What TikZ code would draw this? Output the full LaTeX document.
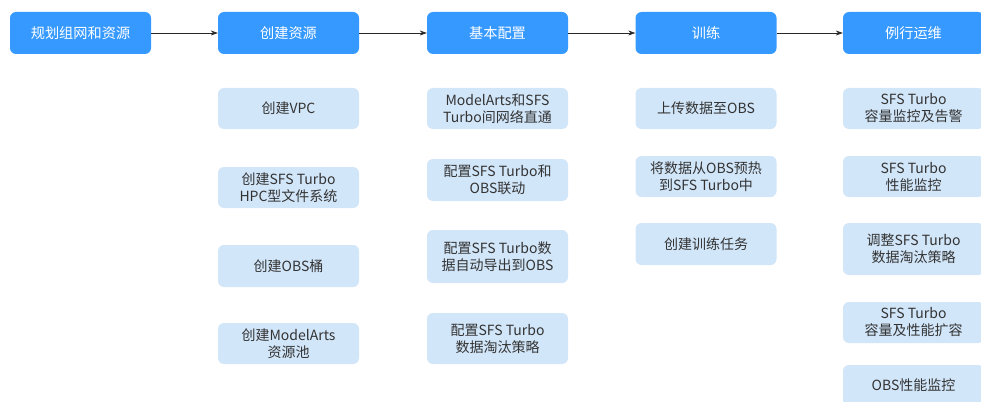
\documentclass[tikz,border=0pt]{standalone}
\usepackage{fontspec}
\setmainfont{Noto Sans CJK SC}
\usetikzlibrary{arrows.meta}
\definecolor{headblue}{RGB}{54,153,255}
\definecolor{subblue}{RGB}{210,230,249}
\definecolor{textgray}{RGB}{51,51,51}
\definecolor{arrowgray}{RGB}{40,40,40}
\begin{document}
\begin{tikzpicture}[x=1pt,y=-1pt]
\tikzset{
  head/.style={rectangle, rounded corners=6pt, fill=headblue, text=white, minimum width=141pt, minimum height=42pt, inner sep=0pt, font=\fontsize{14.2}{17}\selectfont},
  sub/.style={rectangle, rounded corners=6pt, fill=subblue, text=textgray, minimum width=141pt, align=center, inner sep=0pt, font=\fontsize{14}{17}\selectfont},
  arr/.style={draw=arrowgray, line width=0.7pt, -{Stealth[length=7pt,width=5pt]}}
}
\useasboundingbox (0,0) rectangle (981,401);
\clip (0,0) rectangle (981,401);
\fill[white] (0,0) rectangle (981,401);
% headers
\node[head] (h1) at (80.5,33) {规划组网和资源};
\node[head] (h2) at (288.5,33) {创建资源};
\node[head] (h3) at (497.5,33) {基本配置};
\node[head] (h4) at (706,33) {训练};
\node[head] (h5) at (913.5,33) {例行运维};
\draw[arr] (h1) -- (h2);
\draw[arr] (h2) -- (h3);
\draw[arr] (h3) -- (h4);
\draw[arr] (h4) -- (h5);
% column 2
\node[sub, minimum height=41pt] (a1) at (288.5,108.5) {创建VPC};
\node[sub, minimum height=41pt] (a2) at (288.5,187.5) {创建SFS Turbo\\HPC型文件系统};
\node[sub, minimum height=42pt] (a3) at (288.5,266) {创建OBS桶};
\node[sub, minimum height=41pt] (a4) at (288.5,343.5) {创建ModelArts\\资源池};
% column 3
\node[sub, minimum height=41pt] (b1) at (497.5,108.5) {ModelArts和SFS\\Turbo间网络直通};
\node[sub, minimum height=42pt] (b2) at (497.5,180) {配置SFS Turbo和\\OBS联动};
\node[sub, minimum height=53pt] (b3) at (497.5,256.5) {配置SFS Turbo数\\据自动导出到OBS};
\node[sub, minimum height=51pt] (b4) at (497.5,338.5) {配置SFS Turbo\\数据淘汰策略};
% column 4
\node[sub, minimum height=41pt] (c1) at (706,108.5) {上传数据至OBS};
\node[sub, minimum height=41pt] (c2) at (706,176.5) {将数据从OBS预热\\到SFS Turbo中};
\node[sub, minimum height=42pt] (c3) at (706,244) {创建训练任务};
% column 5
\node[sub, minimum height=41pt] (d1) at (913.5,108.5) {SFS Turbo\\容量监控及告警};
\node[sub, minimum height=41pt] (d2) at (913.5,176.5) {SFS Turbo\\性能监控};
\node[sub, minimum height=52pt] (d3) at (913.5,249) {调整SFS Turbo\\数据淘汰策略};
\node[sub, minimum height=41pt] (d4) at (913.5,322.5) {SFS Turbo\\容量及性能扩容};
\node[sub, minimum height=41pt] (d5) at (913.5,385.5) {OBS性能监控};
\end{tikzpicture}
\end{document}
